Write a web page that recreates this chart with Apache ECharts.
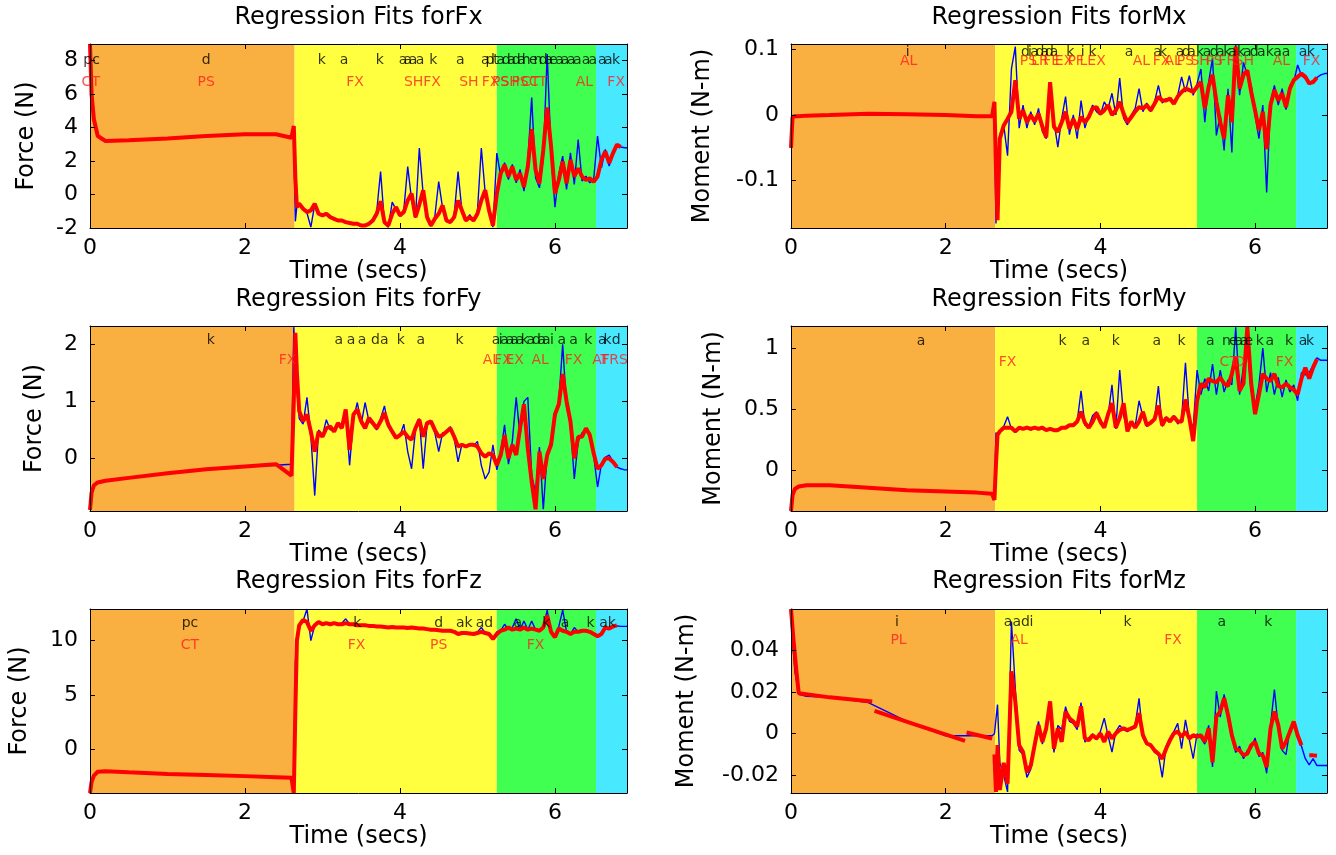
<!DOCTYPE html>
<html>
<head>
<meta charset="utf-8">
<title>Regression Fits</title>
<script src="https://cdn.jsdelivr.net/npm/echarts@6.0.0/dist/echarts.min.js"></script>
<style>
  html, body { margin: 0; padding: 0; background: #fff; }
  #chart { width: 1336px; height: 855px; }
</style>
</head>
<body>
<div id="chart"></div>
<script>
// shared sample times (secs)
const t = [
  0, 0.02, 0.05, 0.1, 0.2, 0.5, 1.0, 1.5, 2.0, 2.4, 2.6, 2.63, 2.65, 2.67,
  2.70, 2.75, 2.80, 2.85, 2.90, 2.95, 3.00, 3.05, 3.10, 3.15, 3.20, 3.25, 3.30, 3.35, 3.40, 3.45,
  3.50, 3.55, 3.60, 3.65, 3.70, 3.75, 3.80, 3.85, 3.90, 3.95, 4.00, 4.05, 4.10, 4.15, 4.20, 4.25,
  4.30, 4.35, 4.40, 4.45, 4.50, 4.55, 4.60, 4.65, 4.70, 4.75, 4.80, 4.85, 4.90, 4.95, 5.00, 5.05,
  5.10, 5.15, 5.20, 5.25, 5.30, 5.35, 5.40, 5.45, 5.50, 5.55, 5.60, 5.65, 5.70, 5.75, 5.80, 5.85,
  5.90, 5.95, 6.00, 6.05, 6.10, 6.15, 6.20, 6.25, 6.30, 6.35, 6.40, 6.45, 6.50, 6.55, 6.60, 6.65,
  6.70, 6.75, 6.80, 6.85, 6.90, 6.93
];

const fxRaw = [
  9.0, 6.0, 4.5, 3.5, 3.2, 3.25, 3.35, 3.5, 3.65, 3.55, 3.5, 3.5, -1.6, -0.7,
  -0.5, -0.9, -1.1, -1.95, -0.6, -1.1, -1.2, -1.1, -1.3, -1.5, -1.6, -1.5, -1.7, -1.65, -1.8, -1.7,
  -1.9, -1.8, -1.7, -1.5, -1.0, 1.37, -1.7, -1.95, -0.45, -0.9, -1.3, -0.9, 1.67, -0.3, -1.4, 2.78,
  0.0, -1.5, -1.9, -1.3, 0.77, -0.8, -1.6, -1.7, -1.2, 1.37, -1.0, -1.6, -1.2, -1.6, -1.0, 2.78,
  0.1, -1.0, -1.95, 2.48, 1.1, 1.9, 0.9, 1.8, 0.7, 1.5, 0.2, 2.0, 5.8, 1.0, 0.4, 2.2,
  8.4, 2.5, -0.75, 1.2, 2.3, 0.3, 2.5, 0.6, 3.29, 0.8, 1.1, 0.7, 0.9, 3.49, 1.6, 2.7,
  1.7, 2.6, 2.9, 2.84, 2.8, 2.8
];
const fxFit = [
  9.0, 6.0, 4.5, 3.5, 3.2, 3.25, 3.35, 3.5, 3.6, 3.6, 3.4, 4.1, 1.0, -0.75,
  -0.55, -0.85, -1.05, -0.95, -0.55, -1.15, -1.25, -1.15, -1.35, -1.45, -1.55, -1.55, -1.65, -1.7, -1.75, -1.75,
  -1.85, -1.85, -1.75, -1.55, -1.15, -0.4, -1.65, -1.85, -1.15, -0.75, -1.25, -1.05, -0.35, 0.06, -1.35, -0.6,
  0.26, -1.35, -1.85, -1.45, -1.15, -0.65, -1.55, -1.65, -1.35, -0.35, -0.95, -1.55, -1.35, -1.55, -1.15, -0.35,
  0.26, -0.95, -1.85, 0.06, 1.27, 1.77, 1.07, 1.67, 0.87, 1.27, 0.46, 1.67, 3.9, 1.47, 0.67, 2.68,
  5.2, 2.88, 0.06, 0.87, 1.98, 0.67, 2.08, 1.07, 1.57, 1.07, 0.87, 0.97, 0.77, 1.07, 2.08, 2.58,
  1.88, 2.48, 2.98, 2.84, null, null
];

const mxRaw = [
  -0.05, -0.003, -0.002, -0.002, -0.001, 0.0, 0.002, 0.001, 0.0, -0.003, -0.003, -0.003, -0.165, -0.1,
  -0.03, -0.015, -0.062, 0.07, 0.104, -0.02, 0.015, -0.02, 0.005, -0.015, 0.01, -0.025, -0.036, 0.04, -0.01, -0.049,
  -0.005, 0.028, -0.03, 0.0, -0.036, 0.022, -0.02, 0.0, 0.015, 0.005, 0.0, 0.02, 0.01, 0.033, 0.0, 0.056,
  -0.005, -0.015, 0.0, 0.01, 0.04, 0.005, 0.018, 0.005, 0.02, 0.045, 0.018, 0.025, 0.022, 0.02, 0.03, 0.058,
  0.035, 0.06, 0.03, 0.048, 0.07, -0.011, 0.05, 0.086, -0.031, 0.0, -0.054, 0.04, -0.057, 0.108, 0.03, 0.08,
  0.06, 0.045, 0.0, -0.036, 0.015, -0.118, 0.02, 0.045, 0.015, 0.04, 0.008, 0.045, 0.05, 0.076, 0.06, 0.055,
  0.05, 0.052, 0.057, 0.061, 0.063, 0.063
];
const mxFit = [
  -0.05, -0.003, -0.002, -0.002, -0.001, 0.0, 0.002, 0.001, 0.0, -0.002, -0.002, 0.02, -0.08, -0.16,
  -0.036, -0.016, -0.006, 0.005, 0.053, -0.006, 0.007, -0.011, 0.0, -0.01, 0.002, -0.018, -0.034, 0.05, -0.018, -0.026,
  -0.011, 0.005, -0.021, -0.006, -0.021, -0.003, -0.011, -0.003, 0.01, 0.012, 0.002, 0.007, 0.015, 0.0, 0.007, 0.02,
  0.002, -0.011, -0.003, 0.005, 0.012, 0.01, 0.015, 0.007, 0.017, 0.028, 0.022, 0.022, 0.025, 0.017, 0.028, 0.035,
  0.04, 0.038, 0.035, 0.043, 0.05, 0.01, 0.043, 0.061, 0.02, -0.011, -0.036, 0.03, -0.011, 0.104, 0.04, 0.061,
  0.068, 0.035, 0.007, -0.023, 0.005, -0.052, 0.015, 0.038, 0.022, 0.033, 0.012, 0.04, 0.053, 0.058, 0.063, 0.058,
  0.048, 0.05, 0.057, null, null, null
];

const fyRaw = [
  -0.9, -0.6, -0.47, -0.42, -0.39, -0.34, -0.26, -0.19, -0.14, -0.12, -0.1, 2.3, 2.3, 1.2,
  0.7, 0.6, 1.07, 0.4, -0.65, 0.5, 0.4, 0.68, 0.5, 0.5, 0.6, 0.55, 0.8, -0.12, 0.7, 0.98,
  0.6, 0.98, 0.65, 0.6, 0.5, 0.7, 0.92, 0.55, 0.45, 0.35, 0.4, 0.6, 0.12, -0.18, 0.5, 0.7,
  -0.18, 0.6, 0.62, 0.45, 0.12, 0.45, 0.45, 0.56, 0.35, -0.06, 0.25, 0.2, 0.25, 0.22, 0.3, -0.12,
  -0.36, -0.24, 0.24, -0.2, 0.1, 0.59, -0.1, 0.3, 1.07, 0.4, 1.0, 1.07, -0.3, -0.6, 0.2, -0.89,
  0.1, 0.3, 0.7, 1.0, 2.0, 0.9, 0.6, -0.36, 0.3, 0.45, 0.5, 0.45, 0.05, -0.5, -0.1, 0.02,
  0.06, -0.05, -0.15, -0.18, -0.2, -0.2
];
const fyFit = [
  -0.9, -0.6, -0.47, -0.42, -0.39, -0.34, -0.26, -0.19, -0.14, -0.1, -0.3, 1.0, 2.2, 1.5,
  0.83, 0.65, 0.77, 0.47, 0.12, 0.47, 0.38, 0.53, 0.56, 0.47, 0.62, 0.53, 0.86, 0.15, 0.77, 0.86,
  0.65, 0.53, 0.71, 0.62, 0.53, 0.65, 0.8, 0.59, 0.47, 0.36, 0.41, 0.47, 0.38, 0.33, 0.53, 0.68,
  0.38, 0.62, 0.65, 0.5, 0.38, 0.41, 0.47, 0.53, 0.38, 0.21, 0.24, 0.21, 0.24, 0.24, 0.21, 0.09,
  0.03, 0.09, 0.06, -0.12, 0.06, 0.41, 0.0, 0.24, 0.06, 0.53, 0.95, 0.18, -0.41, -0.89, 0.12, -0.36,
  0.06, 0.24, 0.77, 0.95, 1.48, 1.0, 0.65, 0.0, 0.38, 0.38, 0.53, 0.41, 0.09, -0.18, -0.12, 0.0,
  0.0, -0.06, -0.15, null, null, null
];

const myRaw = [
  -0.33, -0.2, -0.15, -0.13, -0.12, -0.12, -0.14, -0.16, -0.17, -0.18, -0.19, -0.2, 0.31, 0.28,
  0.32, 0.36, 0.44, 0.34, 0.31, 0.35, 0.34, 0.36, 0.33, 0.35, 0.34, 0.36, 0.33, 0.34, 0.33, 0.34,
  0.35, 0.35, 0.37, 0.38, 0.4, 0.65, 0.37, 0.36, 0.45, 0.48, 0.38, 0.36, 0.45, 0.7, 0.34, 0.82,
  0.45, 0.33, 0.4, 0.36, 0.57, 0.44, 0.36, 0.4, 0.42, 0.69, 0.36, 0.44, 0.4, 0.45, 0.38, 0.42,
  0.88, 0.42, 0.35, 0.82, 0.62, 0.75, 0.65, 0.87, 0.62, 0.82, 0.64, 0.74, 0.7, 1.17, 0.62, 0.85,
  1.0, 0.65, 0.52, 0.7, 1.0, 0.64, 0.8, 0.62, 0.76, 0.6, 0.74, 0.64, 0.7, 0.57, 0.8, 0.78,
  0.8, 0.86, 0.92, 0.9, 0.9, 0.9
];
const myFit = [
  -0.33, -0.2, -0.15, -0.13, -0.12, -0.12, -0.14, -0.16, -0.17, -0.18, -0.19, -0.24, 0.05, 0.29,
  0.32, 0.35, 0.35, 0.35, 0.32, 0.35, 0.34, 0.35, 0.34, 0.35, 0.34, 0.35, 0.33, 0.34, 0.33, 0.33,
  0.35, 0.35, 0.37, 0.37, 0.4, 0.48, 0.39, 0.35, 0.4, 0.47, 0.4, 0.35, 0.46, 0.55, 0.35, 0.43,
  0.55, 0.32, 0.4, 0.35, 0.4, 0.48, 0.37, 0.39, 0.42, 0.53, 0.37, 0.43, 0.4, 0.44, 0.4, 0.4,
  0.58, 0.43, 0.24, 0.57, 0.71, 0.68, 0.75, 0.73, 0.72, 0.76, 0.71, 0.69, 0.79, 0.93, 0.65, 0.71,
  1.17, 0.71, 0.46, 0.62, 0.79, 0.75, 0.73, 0.79, 0.69, 0.68, 0.71, 0.68, 0.66, 0.62, 0.75, 0.84,
  0.75, 0.84, 0.91, null, null, null
];

const fzRaw = [
  -4.0, -3.0, -2.4, -2.05, -2.0, -2.1, -2.25, -2.35, -2.45, -2.55, -2.6, -3.5, 8.0, 10.5,
  11.3, 11.8, 12.9, 10.0, 11.4, 11.7, 11.5, 11.6, 11.5, 11.6, 11.5, 11.6, 12.0, 11.5, 11.5, 11.4,
  11.4, 11.4, 11.35, 11.35, 11.3, 11.3, 11.25, 11.2, 11.25, 11.2, 11.2, 11.2, 11.15, 11.2, 11.15, 11.1,
  11.1, 11.05, 11.0, 11.0, 10.95, 10.9, 10.9, 10.9, 10.8, 10.6, 10.7, 10.7, 10.65, 10.6, 10.8, 11.2,
  10.7, 10.5, 10.2, 10.8, 10.9, 11.5, 11.0, 11.2, 12.0, 11.0, 11.8, 11.0, 11.8, 11.0, 10.9, 11.2,
  12.8, 10.8, 10.5, 11.3, 12.8, 10.8, 10.6, 11.2, 10.8, 10.9, 11.0, 10.8, 10.7, 10.5, 10.6, 11.1,
  11.1, 11.3, 11.35, 11.3, 11.3, 11.3
];
const fzFit = [
  -4.0, -3.0, -2.4, -2.05, -2.0, -2.1, -2.25, -2.35, -2.45, -2.55, -2.6, -4.0, 3.5, 10.0,
  11.4, 11.9, 11.7, 10.9, 11.4, 11.7, 11.5, 11.6, 11.5, 11.6, 11.5, 11.5, 11.6, 11.5, 11.5, 11.4,
  11.4, 11.4, 11.35, 11.35, 11.3, 11.3, 11.25, 11.2, 11.25, 11.2, 11.2, 11.2, 11.15, 11.2, 11.15, 11.1,
  11.1, 11.05, 11.0, 11.0, 10.95, 10.9, 10.9, 10.9, 10.8, 10.6, 10.7, 10.7, 10.65, 10.6, 10.7, 10.8,
  10.7, 10.6, 10.15, 10.6, 10.9, 11.0, 11.2, 11.0, 11.1, 11.0, 11.2, 11.0, 11.1, 11.0, 10.9, 11.2,
  12.3, 10.8, 10.3, 11.1, 10.9, 10.8, 10.6, 10.8, 10.8, 10.9, 10.9, 10.8, 10.6, 10.4, 10.6, 11.2,
  11.1, 11.3, 11.4, null, null, null
];

const mzRaw = [
  0.055, 0.045, 0.03, 0.019, 0.018, 0.0175, 0.015, 0.006, -0.001, -0.001, -0.001, 0.0, 0.0, 0.014,
  -0.014, -0.02, -0.028, 0.054, 0.022, -0.008, -0.01, -0.021, -0.017, -0.004, 0.006, -0.005, 0.004, 0.013, -0.009, 0.004,
  0.002, 0.013, 0.006, 0.005, 0.002, 0.015, -0.004, -0.002, 0.0, -0.003, 0.001, 0.0075, -0.001, -0.0088, 0.001, 0.004,
  0.002, 0.001, 0.003, 0.004, 0.017, -0.002, -0.005, -0.006, -0.009, -0.01, -0.021, -0.006, -0.002, 0.001, 0.005, -0.0072,
  0.0067, -0.003, -0.012, 0.0, -0.002, -0.005, 0.004, -0.016, 0.0205, 0.008, 0.019, 0.007, -0.002, -0.009, -0.006, -0.012,
  -0.008, -0.007, -0.002, -0.011, -0.009, -0.019, 0.004, 0.0213, 0.003, -0.008, -0.01, 0.002, 0.006, -0.002, -0.006, -0.012,
  -0.015, -0.012, -0.0153, -0.0153, -0.0153, -0.0153
];
const mzFit = [
  null, null, null, null, null, null, null, null, null, null, null, -0.01, -0.028, -0.0055,
  -0.027, -0.014, -0.024, 0.03, 0.0156, -0.0055, -0.0088, -0.0185, -0.0153, -0.0055, 0.0042, -0.0039, 0.0026, 0.0156, -0.0072, 0.0026,
  -0.0039, 0.0107, 0.0075, 0.0059, 0.0034, 0.0132, -0.0023, -0.0031, -0.0007, -0.0023, 0.0002, -0.0039, 0.001, -0.0023, 0.0002, 0.0018,
  0.0026, 0.0018, 0.0026, 0.0034, 0.0099, -0.0007, -0.0047, -0.0055, -0.008, -0.0096, -0.012, -0.0072, -0.0031, 0.0002, 0.001, -0.0015,
  0.001, -0.0023, -0.0007, -0.0015, -0.0007, -0.0039, 0.0026, -0.0137, 0.0083, 0.0107, 0.0172, 0.0091, -0.0007, -0.0072, -0.008, -0.0104,
  -0.0096, -0.0055, -0.0039, -0.0096, -0.0104, -0.016, 0.0026, 0.0107, 0.0042, -0.0072, -0.0039, 0.001, 0.0059, -0.0007, -0.0055, null,
  -0.0104, -0.0104, -0.0106, null, null, null
];
// piecewise fit segments in the first phase of Mz
const mzFitEarly = [
  [0, 0.06], [0.03, 0.046], [0.07, 0.03], [0.1, 0.0195], [0.5, 0.0175], [1.05, 0.0155], [1.06, null],
  [1.08, 0.011], [1.6, 0.0045], [2.25, -0.0034], [2.26, null], [2.27, 0.0006], [2.6, -0.0023]
];

// phase boundaries (secs)
const phaseEdges = [0, 2.64, 5.25, 6.53, 6.93];

// tick labels
const xTicks = [0, 2, 4, 6];
const fxTicks = [-2, 0, 2, 4, 6, 8];
const mxTicks = [-0.1, 0, 0.1];
const fyTicks = [0, 1, 2];
const myTicks = [0, 0.5, 1];
const fzTicks = [0, 5, 10];
const mzTicks = [-0.02, 0, 0.02, 0.04];

// event labels: [time, text]
const fxBlack = [[0.02, 'pc'], [1.5, 'd'], [2.99, 'k'], [3.28, 'a'], [3.74, 'k'], [4.04, 'a'], [4.10, 'a'], [4.17, 'a'], [4.26, 'a'], [4.43, 'k'], [4.78, 'a'],
  [5.10, 'a'], [5.16, 'p'], [5.20, 'l'], [5.24, 't'], [5.30, 'a'], [5.37, 'd'], [5.44, 'a'], [5.50, 'd'], [5.57, 'a'], [5.63, 'h'], [5.72, 'e'], [5.78, 'n'],
  [5.85, 'd'], [5.92, 'a'], [5.98, 'e'], [6.06, 'a'], [6.13, 'a'], [6.21, 'a'], [6.29, 'a'], [6.40, 'a'], [6.49, 'a'], [6.61, 'a'], [6.69, 'a'], [6.79, 'k']];
const fxRed = [[0.01, 'CT'], [1.5, 'PS'], [3.42, 'FX'], [4.29, 'SHFX'], [4.89, 'SH'], [5.17, 'FX'], [5.30, 'PS'], [5.42, 'SH'], [5.55, 'PS'], [5.68, 'CT'], [5.78, 'CT'], [6.38, 'AL'], [6.79, 'FX']];

const mxBlack = [[1.51, 'i'], [3.03, 'd'], [3.09, 'i'], [3.15, 'a'], [3.22, 'd'], [3.28, 'a'], [3.34, 'd'], [3.40, 'a'], [3.61, 'k'], [3.77, 'i'], [3.90, 'k'], [4.37, 'a'],
  [4.74, 'a'], [4.81, 'k'], [5.03, 'a'], [5.11, 'd'], [5.18, 'a'], [5.29, 'k'], [5.38, 'a'], [5.47, 'd'], [5.55, 'a'], [5.64, 'k'], [5.71, 'a'], [5.82, 'k'],
  [5.90, 'a'], [5.99, 'd'], [6.08, 'a'], [6.19, 'k'], [6.29, 'a'], [6.40, 'a'], [6.62, 'a'], [6.72, 'k']];
const mxRed = [[1.52, 'AL'], [3.07, 'PS'], [3.22, 'LR'], [3.37, 'FE'], [3.53, 'EX'], [3.68, 'PF'], [3.90, 'LEX'], [4.53, 'AL'], [4.79, 'FX'], [4.94, 'AL'],
  [5.10, 'PS'], [5.29, 'SH'], [5.47, 'PS'], [5.64, 'FR'], [5.86, 'SH'], [6.34, 'AL'], [6.73, 'FX']];

const fyBlack = [[1.56, 'k'], [3.21, 'a'], [3.37, 'a'], [3.51, 'a'], [3.74, 'da'], [4.01, 'k'], [4.27, 'a'], [4.77, 'k'], [5.24, 'a'], [5.30, 'i'], [5.35, 'a'],
  [5.42, 'a'], [5.48, 'a'], [5.55, 'a'], [5.61, 'k'], [5.69, 'a'], [5.76, 'd'], [5.83, 'a'], [5.89, 'a'], [5.96, 'i'], [6.09, 'a'], [6.24, 'a'], [6.43, 'k'],
  [6.61, 'a'], [6.68, 'k'], [6.79, 'd']];
const fyRed = [[2.55, 'FX'], [5.18, 'AL'], [5.33, 'FX'], [5.48, 'EX'], [5.81, 'AL'], [6.24, 'FX'], [6.59, 'AT'], [6.77, 'FRS']];

const myBlack = [[1.68, 'a'], [3.51, 'k'], [3.81, 'a'], [4.20, 'k'], [4.73, 'a'], [5.05, 'k'], [5.42, 'a'], [5.63, 'n'], [5.72, 'e'], [5.79, 'a'], [5.86, 'a'],
  [5.92, 'e'], [6.06, 'k'], [6.19, 'a'], [6.44, 'k'], [6.62, 'a'], [6.71, 'k']];
const myRed = [[2.80, 'FX'], [5.66, 'CT'], [5.80, 'D'], [6.38, 'FX']];

const fzBlack = [[1.29, 'pc'], [3.45, 'k'], [4.5, 'd'], [4.83, 'ak'], [5.09, 'ad'], [5.52, 'a'], [5.89, 'k'], [6.13, 'a'], [6.46, 'k'], [6.68, 'ak']];
const fzRed = [[1.29, 'CT'], [3.44, 'FX'], [4.50, 'PS'], [5.75, 'FX']];

const mzBlack = [[1.37, 'i'], [2.92, 'aad'], [3.11, 'i'], [4.35, 'k'], [5.57, 'a'], [6.17, 'k']];
const mzRed = [[1.39, 'PL'], [2.95, 'AL'], [4.94, 'FX']];

const FONT = "'DejaVu Sans', sans-serif";
const phaseColors = ['#faaf41', '#ffff40', '#40ff50', '#48e8ff'];
const cols = [{ left: 90, width: 537 }, { left: 791, width: 536 }];
const rows = [{ top: 44, height: 184 }, { top: 326, height: 185 }, { top: 609, height: 184 }];
const titleMid = [19, 301, 583];

const panels = [
  { name: 'Fx', yName: 'Force (N)', min: -2, max: 9, ticks: fxTicks, raw: fxRaw, fit: fxFit, black: fxBlack, red: fxRed, blackY: 8, redY: 6.7, col: 0, row: 0, nameGap: 51 },
  { name: 'Mx', yName: 'Moment (N-m)', min: -0.172, max: 0.108, ticks: mxTicks, raw: mxRaw, fit: mxFit, black: mxBlack, red: mxRed, blackY: 0.096, redY: 0.081, col: 1, row: 0, nameGap: 76 },
  { name: 'Fy', yName: 'Force (N)', min: -0.92, max: 2.32, ticks: fyTicks, raw: fyRaw, fit: fyFit, black: fyBlack, red: fyRed, blackY: 2.075, redY: 1.725, col: 0, row: 1, nameGap: 43 },
  { name: 'My', yName: 'Moment (N-m)', min: -0.33, max: 1.18, ticks: myTicks, raw: myRaw, fit: myFit, black: myBlack, red: myRed, blackY: 1.058, redY: 0.886, col: 1, row: 1, nameGap: 65 },
  { name: 'Fz', yName: 'Force (N)', min: -4, max: 12.9, ticks: fzTicks, raw: fzRaw, fit: fzFit, black: fzBlack, red: fzRed, blackY: 11.55, redY: 9.6, col: 0, row: 2, nameGap: 58 },
  { name: 'Mz', yName: 'Moment (N-m)', min: -0.0285, max: 0.06, ticks: mzTicks, raw: mzRaw, fit: mzFit, black: mzBlack, red: mzRed, blackY: 0.0537, redY: 0.0451, col: 1, row: 2, nameGap: 92 }
];

const textStyle = { color: '#000', fontFamily: FONT };
const grid = [], xAxis = [], yAxis = [], series = [], title = [];

panels.forEach((p, i) => {
  const c = cols[p.col], r = rows[p.row];
  grid.push({ left: c.left, top: r.top, width: c.width, height: r.height, containLabel: false, outerBoundsMode: 'none' });
  title.push({
    text: 'Regression Fits for' + p.name,
    left: c.left + c.width / 2, top: titleMid[p.row] - 13, textAlign: 'center', padding: 0,
    textStyle: { ...textStyle, fontSize: 24, fontWeight: 'normal' }
  });

  const line = { show: true, onZero: false, lineStyle: { color: '#000', width: 1 } };
  const tick = (vals) => ({ show: true, inside: true, length: 5, customValues: vals, lineStyle: { color: '#000' } });

  xAxis.push({
    gridIndex: i, type: 'value', position: 'bottom', min: 0, max: 6.93, z: 6,
    axisLine: line, axisTick: tick(xTicks), splitLine: { show: false },
    axisLabel: { customValues: xTicks, margin: 9, fontSize: 22, ...textStyle },
    name: 'Time (secs)', nameLocation: 'middle', nameGap: 32,
    nameTextStyle: { fontSize: 24, ...textStyle }
  });
  xAxis.push({
    gridIndex: i, type: 'value', position: 'top', min: 0, max: 6.93, z: 6,
    axisLine: line, axisTick: tick(xTicks), axisLabel: { show: false }, splitLine: { show: false }
  });
  yAxis.push({
    gridIndex: i, type: 'value', position: 'left', min: p.min, max: p.max, z: 6,
    axisLine: line, axisTick: tick(p.ticks), splitLine: { show: false },
    axisLabel: { customValues: p.ticks, margin: 12, fontSize: 22, ...textStyle },
    name: p.yName, nameLocation: 'middle', nameGap: p.nameGap,
    nameTextStyle: { fontSize: 24, ...textStyle }
  });
  yAxis.push({
    gridIndex: i, type: 'value', position: 'right', min: p.min, max: p.max, z: 6,
    axisLine: line, axisTick: tick(p.ticks), axisLabel: { show: false }, splitLine: { show: false }
  });

  const ax = { xAxisIndex: 2 * i, yAxisIndex: 2 * i };
  series.push({
    type: 'line', ...ax, symbol: 'none', z: 3,
    data: t.map((x, k) => [x, p.raw[k]]),
    lineStyle: { color: '#0000ff', width: 1.4 },
    markArea: {
      silent: true,
      data: phaseColors.map((col, k) => [
        { xAxis: phaseEdges[k], itemStyle: { color: col, opacity: 1 } },
        { xAxis: phaseEdges[k + 1] }
      ])
    }
  });
  series.push({
    type: 'line', ...ax, symbol: 'none', z: 4,
    data: t.map((x, k) => [x, p.fit[k]]),
    lineStyle: { color: '#ff0000', width: 4 }
  });
  if (p.name === 'Mz') {
    series.push({
      type: 'line', ...ax, symbol: 'none', z: 4,
      data: mzFitEarly,
      lineStyle: { color: '#ff0000', width: 4 }
    });
  }
  [[p.black, p.blackY, '#000000'], [p.red, p.redY, '#ff1f1f']].forEach(([items, y, color]) => {
    series.push({
      type: 'scatter', ...ax, z: 5, symbolSize: 1, silent: true,
      itemStyle: { color: 'rgba(0,0,0,0)' },
      data: items.map(([x, s]) => [x, y, s]),
      label: {
        show: true, position: 'inside', color, fontSize: 14, fontFamily: FONT,
        formatter: (d) => d.value[2]
      }
    });
  });
});

const chart = echarts.init(document.getElementById('chart'), null, { renderer: 'canvas' });
chart.setOption({
  animation: false,
  backgroundColor: '#ffffff',
  title, grid, xAxis, yAxis, series
});
</script>
</body>
</html>
